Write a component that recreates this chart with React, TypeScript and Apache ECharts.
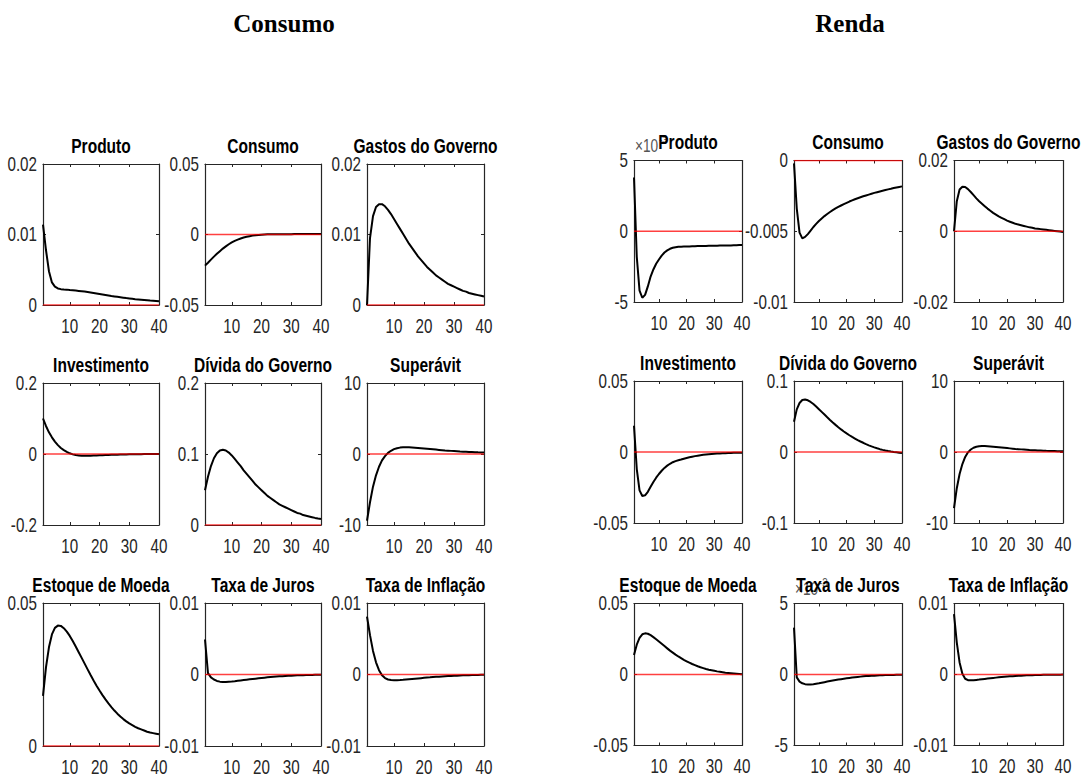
import React, { useEffect, useRef } from 'react';
import * as echarts from 'echarts';

// Horizon (periods 1..40)
const periods = [1, 2, 3, 4, 5, 6, 7, 8, 9, 10, 11, 12, 13, 14, 15, 16, 17, 18, 19, 20,
  21, 22, 23, 24, 25, 26, 27, 28, 29, 30, 31, 32, 33, 34, 35, 36, 37, 38, 39, 40];
const xTickValues = [10, 20, 30, 40];

const groupTitles = ['Consumo', 'Renda'];
const panelTitles = ['Produto', 'Consumo', 'Gastos do Governo', 'Investimento', 'Dívida do Governo', 'Superávit', 'Estoque de Moeda', 'Taxa de Juros', 'Taxa de Inflação'];

// ---------- Choque: Consumo ----------
const cProduto = [0.0114, 0.0078, 0.0048, 0.0032, 0.0026, 0.00235, 0.00225, 0.0022, 0.00218, 0.00212,
  0.00208, 0.00204, 0.002, 0.00195, 0.0019, 0.00184, 0.00177, 0.0017, 0.00163, 0.00156,
  0.00149, 0.00142, 0.00135, 0.00128, 0.00122, 0.00116, 0.0011, 0.00104, 0.00098, 0.00093,
  0.00088, 0.00083, 0.00079, 0.00075, 0.00071, 0.00067, 0.00063, 0.0006, 0.00057, 0.00054];
const cConsumo = [-0.0221, -0.02, -0.0178, -0.0157, -0.0137, -0.0118, -0.01, -0.0084, -0.0069, -0.0056,
  -0.0045, -0.0036, -0.0028, -0.0021, -0.0016, -0.0012, -0.0008, -0.0005, -0.0003, -0.0001,
  0, 0.0001, 0.0001, 0.00015, 0.0002, 0.0002, 0.0002, 0.00025, 0.00025, 0.00025,
  0.0003, 0.0003, 0.0003, 0.0003, 0.0003, 0.0003, 0.0003, 0.0003, 0.0003, 0.0003];
const cGastos = [0, 0.0095, 0.0126, 0.0139, 0.0143, 0.0143, 0.014, 0.0135, 0.0129, 0.0122,
  0.0115, 0.0108, 0.0101, 0.0094, 0.0087, 0.0081, 0.0075, 0.0069, 0.0064, 0.0059,
  0.0054, 0.005, 0.0046, 0.0042, 0.0039, 0.0036, 0.0033, 0.003, 0.0028, 0.0026,
  0.0024, 0.0022, 0.002, 0.0019, 0.0017, 0.0016, 0.0015, 0.0014, 0.0013, 0.0012];
const cInvest = [0.1, 0.079, 0.061, 0.047, 0.035, 0.025, 0.017, 0.011, 0.006, 0.002,
  -0.001, -0.003, -0.004, -0.005, -0.005, -0.005, -0.0048, -0.0045, -0.0042, -0.0038,
  -0.0034, -0.003, -0.0027, -0.0024, -0.0021, -0.0018, -0.0015, -0.0013, -0.0011, -0.0009,
  -0.0007, -0.0006, -0.0005, -0.0004, -0.0003, -0.0002, -0.0001, -0.0001, 0, 0];
const cDivida = [0.049, 0.068, 0.083, 0.094, 0.101, 0.105, 0.106, 0.105, 0.102, 0.098,
  0.093, 0.088, 0.083, 0.077, 0.072, 0.067, 0.062, 0.057, 0.053, 0.049,
  0.045, 0.041, 0.038, 0.035, 0.032, 0.029, 0.027, 0.025, 0.023, 0.021,
  0.019, 0.017, 0.016, 0.014, 0.013, 0.012, 0.011, 0.01, 0.0092, 0.0085];
const cSuperavit = [-9.4, -6.8, -4.6, -3.0, -1.8, -0.9, -0.3, 0.15, 0.45, 0.68,
  0.82, 0.9, 0.94, 0.95, 0.94, 0.92, 0.89, 0.86, 0.82, 0.78,
  0.74, 0.7, 0.66, 0.62, 0.58, 0.54, 0.5, 0.47, 0.44, 0.41,
  0.38, 0.35, 0.33, 0.31, 0.29, 0.27, 0.25, 0.23, 0.22, 0.2];
const cMoeda = [0.0175, 0.0275, 0.0345, 0.039, 0.0413, 0.0421, 0.042, 0.0412, 0.04, 0.0385,
  0.0367, 0.0348, 0.0328, 0.0308, 0.0288, 0.0268, 0.0248, 0.0229, 0.0211, 0.0194,
  0.0178, 0.0163, 0.0149, 0.0136, 0.0124, 0.0113, 0.0103, 0.0094, 0.0086, 0.0079,
  0.0073, 0.0067, 0.0062, 0.0058, 0.0054, 0.005, 0.0047, 0.0045, 0.0043, 0.0041];
const cJuros = [0.0049, 0.0002, -0.0004, -0.0007, -0.0009, -0.001, -0.00105, -0.00105, -0.001, -0.00097,
  -0.00093, -0.00088, -0.00083, -0.00078, -0.00073, -0.00068, -0.00063, -0.00058, -0.00053, -0.00048,
  -0.00044, -0.0004, -0.00036, -0.00032, -0.00029, -0.00026, -0.00023, -0.0002, -0.00018, -0.00016,
  -0.00014, -0.00012, -0.0001, -0.00009, -0.00008, -0.00007, -0.00006, -0.00005, -0.00004, -0.00003];
const cInflacao = [0.0081, 0.0055, 0.0033, 0.0017, 0.0006, -0.0001, -0.0005, -0.0007, -0.00078, -0.0008,
  -0.0008, -0.00078, -0.00075, -0.00071, -0.00067, -0.00063, -0.00059, -0.00055, -0.00051, -0.00047,
  -0.00043, -0.0004, -0.00036, -0.00033, -0.0003, -0.00027, -0.00024, -0.00022, -0.0002, -0.00018,
  -0.00016, -0.00014, -0.00012, -0.0001, -0.00009, -0.00008, -0.00007, -0.00006, -0.00005, -0.00004];

// ---------- Choque: Renda ----------
const rProduto = [0.0038, -0.0018, -0.0042, -0.0047, -0.0045, -0.0039, -0.0032, -0.0027, -0.0023, -0.002,
  -0.00172, -0.0015, -0.00135, -0.00124, -0.00117, -0.00113, -0.0011, -0.00109, -0.00108, -0.00107,
  -0.00107, -0.00106, -0.00106, -0.00105, -0.00105, -0.00104, -0.00104, -0.00103, -0.00103, -0.00102,
  -0.00102, -0.00101, -0.00101, -0.001, -0.001, -0.001, -0.00099, -0.00099, -0.00098, -0.00098];
const rConsumo = [-0.0002, -0.0034, -0.0051, -0.0055, -0.0054, -0.0052, -0.00495, -0.0047, -0.00448, -0.00428,
  -0.0041, -0.00393, -0.00378, -0.00364, -0.00351, -0.00339, -0.00328, -0.00318, -0.00308, -0.00299,
  -0.0029, -0.00282, -0.00274, -0.00267, -0.0026, -0.00253, -0.00247, -0.00241, -0.00235, -0.00229,
  -0.00224, -0.00219, -0.00214, -0.00209, -0.00204, -0.002, -0.00195, -0.00191, -0.00187, -0.00183];
const rGastos = [0, 0.0085, 0.0118, 0.0126, 0.0125, 0.0119, 0.0111, 0.0102, 0.0093, 0.0085,
  0.0078, 0.0071, 0.0064, 0.0058, 0.0052, 0.0047, 0.0042, 0.0038, 0.0034, 0.003,
  0.0027, 0.0024, 0.0021, 0.0019, 0.0017, 0.0015, 0.0013, 0.0011, 0.001, 0.0008,
  0.0007, 0.0006, 0.0005, 0.0004, 0.0003, 0.0002, 0.0001, 0, -0.0001, -0.0002];
const rInvest = [0.0185, -0.012, -0.027, -0.031, -0.0305, -0.028, -0.0245, -0.0211, -0.0181, -0.0155,
  -0.0132, -0.0112, -0.0096, -0.0083, -0.0072, -0.0064, -0.0058, -0.0053, -0.0047, -0.0042,
  -0.0037, -0.0033, -0.0029, -0.0026, -0.0023, -0.002, -0.0018, -0.0016, -0.0014, -0.0012,
  -0.0011, -0.001, -0.0009, -0.0008, -0.0007, -0.0007, -0.0006, -0.0006, -0.0005, -0.0005];
const rDivida = [0.0425, 0.06, 0.069, 0.0732, 0.074, 0.0728, 0.0705, 0.0675, 0.064, 0.0603,
  0.0565, 0.0527, 0.0489, 0.0452, 0.0416, 0.0382, 0.0349, 0.0318, 0.0289, 0.0262,
  0.0236, 0.0212, 0.019, 0.0168, 0.0148, 0.013, 0.011, 0.0094, 0.0079, 0.0065,
  0.0052, 0.004, 0.003, 0.0021, 0.0013, 0.0006, 0, -0.0005, -0.001, -0.0015];
const rSuperavit = [-7.9, -5.1, -3.1, -1.7, -0.7, -0.05, 0.35, 0.6, 0.74, 0.81,
  0.84, 0.84, 0.82, 0.79, 0.75, 0.71, 0.67, 0.63, 0.59, 0.55,
  0.51, 0.47, 0.43, 0.4, 0.37, 0.34, 0.31, 0.28, 0.26, 0.24,
  0.22, 0.2, 0.18, 0.16, 0.15, 0.14, 0.13, 0.12, 0.11, 0.1];
const rMoeda = [0.0138, 0.021, 0.0258, 0.0283, 0.029, 0.0287, 0.0277, 0.0263, 0.0248, 0.0232,
  0.0216, 0.02, 0.0184, 0.0168, 0.0154, 0.014, 0.0127, 0.0115, 0.0103, 0.0093,
  0.0083, 0.0074, 0.0066, 0.0058, 0.0051, 0.0045, 0.0039, 0.0034, 0.003, 0.0026,
  0.0022, 0.0019, 0.0016, 0.0013, 0.0011, 0.0009, 0.0007, 0.0005, 0.0003, 0.0001];
const rJuros = [0.0033, -0.0002, -0.0005, -0.00062, -0.00068, -0.0007, -0.0007, -0.00068, -0.00065, -0.00062,
  -0.00058, -0.00054, -0.0005, -0.00046, -0.00042, -0.00039, -0.00036, -0.00033, -0.0003, -0.00027,
  -0.00024, -0.00021, -0.00019, -0.00017, -0.00015, -0.00013, -0.00011, -0.0001, -0.00009, -0.00008,
  -0.00007, -0.00006, -0.00005, -0.00004, -0.00004, -0.00003, -0.00003, -0.00002, -0.00002, -0.00001];
const rInflacao = [0.0085, 0.0045, 0.0017, 0.0001, -0.0006, -0.0008, -0.00082, -0.0008, -0.00076, -0.00072,
  -0.00067, -0.00062, -0.00057, -0.00052, -0.00048, -0.00044, -0.0004, -0.00036, -0.00032, -0.00029,
  -0.00026, -0.00023, -0.0002, -0.00018, -0.00016, -0.00014, -0.00012, -0.0001, -0.00009, -0.00008,
  -0.00007, -0.00006, -0.00005, -0.00004, -0.00004, -0.00003, -0.00003, -0.00002, -0.00002, -0.00001];

// Axis ranges
const consumoYMin = [0, -0.05, 0, -0.2, 0, -10, 0, -0.01, -0.01];
const consumoYMax = [0.02, 0.05, 0.02, 0.2, 0.2, 10, 0.05, 0.01, 0.01];
const consumoYStep = [0.01, 0.05, 0.01, 0.2, 0.1, 10, 0.05, 0.01, 0.01];
const consumoExp = [0, 0, 0, 0, 0, 0, 0, 0, 0];
const rendaYMin = [-0.005, -0.01, -0.02, -0.05, -0.1, -10, -0.05, -0.005, -0.01];
const rendaYMax = [0.005, 0, 0.02, 0.05, 0.1, 10, 0.05, 0.005, 0.01];
const rendaYStep = [0.005, 0.005, 0.02, 0.05, 0.1, 10, 0.05, 0.005, 0.01];
const rendaExp = [-3, 0, 0, 0, 0, 0, 0, -3, 0];

const consumoSeries = [cProduto, cConsumo, cGastos, cInvest, cDivida, cSuperavit, cMoeda, cJuros, cInflacao];
const rendaSeries = [rProduto, rConsumo, rGastos, rInvest, rDivida, rSuperavit, rMoeda, rJuros, rInflacao];

const AXIS = '#262626';
const SANS = '"Liberation Sans", Arial, Helvetica, sans-serif';
const SERIF = '"Liberation Serif", "Times New Roman", serif';
// MATLAB figure text appears horizontally compressed
const TICK_SIZE = 20;
const TICK_SX = 0.76;
const TITLE_SIZE = 21;
const TITLE_SX = 0.74;

function fmt(v: number, exp: number) {
  const s = exp !== 0 ? v / Math.pow(10, exp) : v;
  return String(parseFloat(s.toPrecision(6)));
}

export default function App() {
  const ref = useRef<HTMLDivElement>(null);
  useEffect(() => {
    if (!ref.current) return;
    const chart = echarts.init(ref.current, undefined, { renderer: 'svg' });

    const layouts = [
      {
        cols: [[43, 116], [205, 116], [367, 117]],
        rows: [[164, 141], [383, 142], [603, 143]],
        titleX: 284,
        data: consumoSeries, ymin: consumoYMin, ymax: consumoYMax, ystep: consumoYStep, exp: consumoExp,
      },
      {
        cols: [[634, 108], [794, 108], [954, 109]],
        rows: [[160.5, 141.5], [381, 142], [603.5, 142]],
        titleX: 850,
        data: rendaSeries, ymin: rendaYMin, ymax: rendaYMax, ystep: rendaYStep, exp: rendaExp,
      },
    ];

    const grid: any[] = [];
    const xAxis: any[] = [];
    const yAxis: any[] = [];
    const series: any[] = [];
    const panels: any[] = [];

    const axisLine = { show: true, onZero: false, lineStyle: { color: AXIS, width: 1.2 } };
    const tick = { show: true, inside: true, length: 3, lineStyle: { color: AXIS, width: 1 } };

    layouts.forEach((g) => {
      g.data.forEach((vals, pi) => {
        const r = Math.floor(pi / 3);
        const c = pi % 3;
        const [left, width] = g.cols[c];
        const [top, height] = g.rows[r];
        const idx = grid.length;
        grid.push({ left, top, width, height, show: false, containLabel: false });
        xAxis.push({
          gridIndex: idx, type: 'value', min: 1, max: 40, position: 'bottom',
          axisLine, axisTick: { ...tick, customValues: xTickValues },
          axisLabel: { show: false }, splitLine: { show: false },
        });
        xAxis.push({
          gridIndex: idx, type: 'value', min: 1, max: 40, position: 'top',
          axisLine, axisTick: { ...tick, customValues: xTickValues },
          axisLabel: { show: false }, splitLine: { show: false },
        });
        yAxis.push({
          gridIndex: idx, type: 'value', min: g.ymin[pi], max: g.ymax[pi], interval: g.ystep[pi], position: 'left',
          axisLine, axisTick: tick, axisLabel: { show: false }, splitLine: { show: false },
        });
        yAxis.push({
          gridIndex: idx, type: 'value', min: g.ymin[pi], max: g.ymax[pi], interval: g.ystep[pi], position: 'right',
          axisLine, axisTick: tick, axisLabel: { show: false }, splitLine: { show: false },
        });
        series.push({
          type: 'line', xAxisIndex: 2 * idx, yAxisIndex: 2 * idx,
          data: periods.map((t, i) => [t, vals[i]]),
          symbol: 'none', silent: true, z: 3,
          lineStyle: { color: '#000', width: 2 },
        });
        series.push({
          type: 'line', xAxisIndex: 2 * idx, yAxisIndex: 2 * idx,
          data: periods.map((t) => [t, 0]),
          symbol: 'none', silent: true, z: 4,
          lineStyle: { color: '#ff0000', width: 1.5, opacity: 0.75 },
        });
        panels.push({
          seriesIndex: 2 * idx, title: panelTitles[pi],
          ymin: g.ymin[pi], ymax: g.ymax[pi], ystep: g.ystep[pi], exp: g.exp[pi],
        });
      });
    });

    chart.setOption({
      animation: false,
      backgroundColor: '#fff',
      grid, xAxis, yAxis, series,
    });

    // Tick labels and titles, positioned through the axes' own scales
    const graphic: any[] = [];
    layouts.forEach((g, gi) => {
      graphic.push({
        type: 'text', x: g.titleX, y: 23, z: 10,
        style: { text: groupTitles[gi], fill: '#000', fontFamily: SERIF, fontWeight: 'bold', fontSize: 25, align: 'center', verticalAlign: 'middle' },
      });
    });
    panels.forEach((p) => {
      const finder = { seriesIndex: p.seriesIndex };
      const tl = chart.convertToPixel(finder, [1, p.ymax]) as number[];
      const br = chart.convertToPixel(finder, [40, p.ymin]) as number[];
      const nTicks = Math.round((p.ymax - p.ymin) / p.ystep);
      for (let k = 0; k <= nTicks; k++) {
        const v = p.ymin + k * p.ystep;
        const pt = chart.convertToPixel(finder, [1, v]) as number[];
        graphic.push({
          type: 'text', x: pt[0] - 6, y: pt[1], scaleX: TICK_SX, z: 6,
          style: { text: fmt(v, p.exp), fill: AXIS, fontFamily: SANS, fontSize: TICK_SIZE, align: 'right', verticalAlign: 'middle' },
        });
      }
      xTickValues.forEach((xv) => {
        const pt = chart.convertToPixel(finder, [xv, p.ymin]) as number[];
        graphic.push({
          type: 'text', x: pt[0], y: pt[1] + 21, scaleX: TICK_SX, z: 6,
          style: { text: String(xv), fill: AXIS, fontFamily: SANS, fontSize: TICK_SIZE, align: 'center', verticalAlign: 'middle' },
        });
      });
      if (p.exp !== 0) {
        graphic.push({
          type: 'text', x: tl[0] + 1, y: tl[1] - 6, scaleX: TICK_SX, z: 6,
          style: { text: '×10', fill: '#555', fontFamily: SANS, fontSize: 18, align: 'left', verticalAlign: 'bottom' },
        });
        graphic.push({
          type: 'text', x: tl[0] + 25, y: tl[1] - 15, scaleX: TICK_SX, z: 6,
          style: { text: String(p.exp), fill: '#555', fontFamily: SANS, fontSize: 13, align: 'left', verticalAlign: 'bottom' },
        });
      }
      graphic.push({
        type: 'text', x: (tl[0] + br[0]) / 2, y: tl[1] - 18.5, scaleX: TITLE_SX, z: 10,
        style: { text: p.title, fill: '#000', fontFamily: SANS, fontWeight: 'bold', fontSize: TITLE_SIZE, align: 'center', verticalAlign: 'middle' },
      });
    });
    chart.setOption({ graphic });

    return () => chart.dispose();
  }, []);

  return <div ref={ref} style={{ position: 'absolute', left: 0, top: 0, width: 1083, height: 782 }} />;
}
